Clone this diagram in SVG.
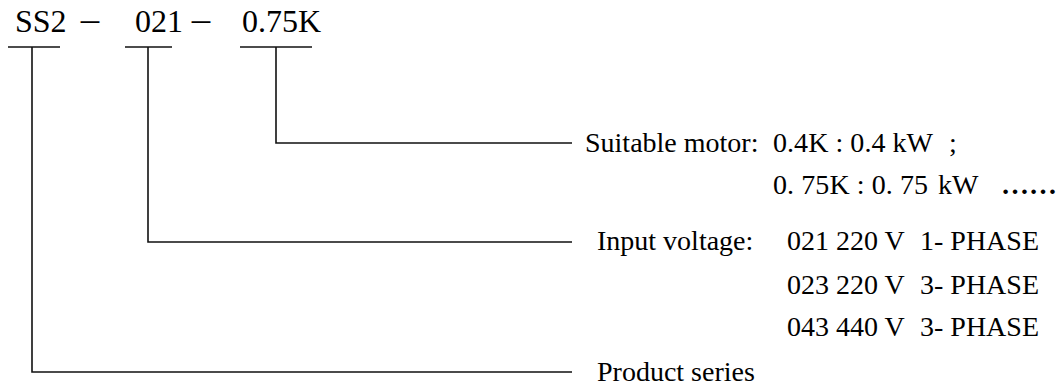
<svg xmlns="http://www.w3.org/2000/svg" width="1059" height="385" viewBox="0 0 1059 385">
<style>
.t{font-family:"Liberation Serif","Times New Roman",serif;fill:#000}
.big{font-size:32px}
.lab{font-size:28px}
.cjk{font-family:"Liberation Serif","Noto Sans CJK SC",serif;fill:#000}
.ln{stroke:#111;stroke-width:1.6;fill:none}
</style>
<rect width="1059" height="385" fill="#fff"/>
<g id="code">
<text class="t big" x="15" y="32">SS2</text>
<text class="cjk" x="77" y="32" font-size="26">－</text>
<text class="t big" x="135" y="32">021</text>
<text class="cjk" x="188" y="32" font-size="26">－</text>
<text class="t big" x="242" y="32">0.75K</text>
</g>
<g id="connectors">
<line class="ln" x1="8" y1="47" x2="60" y2="47"/>
<line class="ln" x1="125" y1="47" x2="172" y2="47"/>
<line class="ln" x1="240" y1="47" x2="312" y2="47"/>
<polyline class="ln" points="276,47 276,143 572,143"/>
<polyline class="ln" points="148,47 148,242 572,242"/>
<polyline class="ln" points="32,47 32,372 572,372"/>
</g>
<g id="motor">
<text class="t lab" x="585" y="152">Suitable motor:</text>
<text class="t lab" x="773" y="152" textLength="160" lengthAdjust="spacing">0.4K : 0.4 kW</text>
<text class="t lab" x="949" y="152">;</text>
<text class="t lab" x="773" y="194" textLength="155" lengthAdjust="spacing">0. 75K : 0. 75</text>
<text class="t lab" x="938" y="194">kW</text>
<text class="cjk" x="1001" y="194" font-size="28" font-weight="bold">……</text>
</g>
<g id="voltage">
<text class="t lab" x="597" y="250">Input voltage:</text>
<text class="t lab" x="787" y="250">021 220 V</text>
<text class="t lab" x="920" y="250">1- PHASE</text>
<text class="t lab" x="787" y="294">023 220 V</text>
<text class="t lab" x="920" y="294">3- PHASE</text>
<text class="t lab" x="787" y="336">043 440 V</text>
<text class="t lab" x="920" y="336">3- PHASE</text>
</g>
<g id="series">
<text class="t lab" x="597" y="381">Product series</text>
</g>
</svg>
